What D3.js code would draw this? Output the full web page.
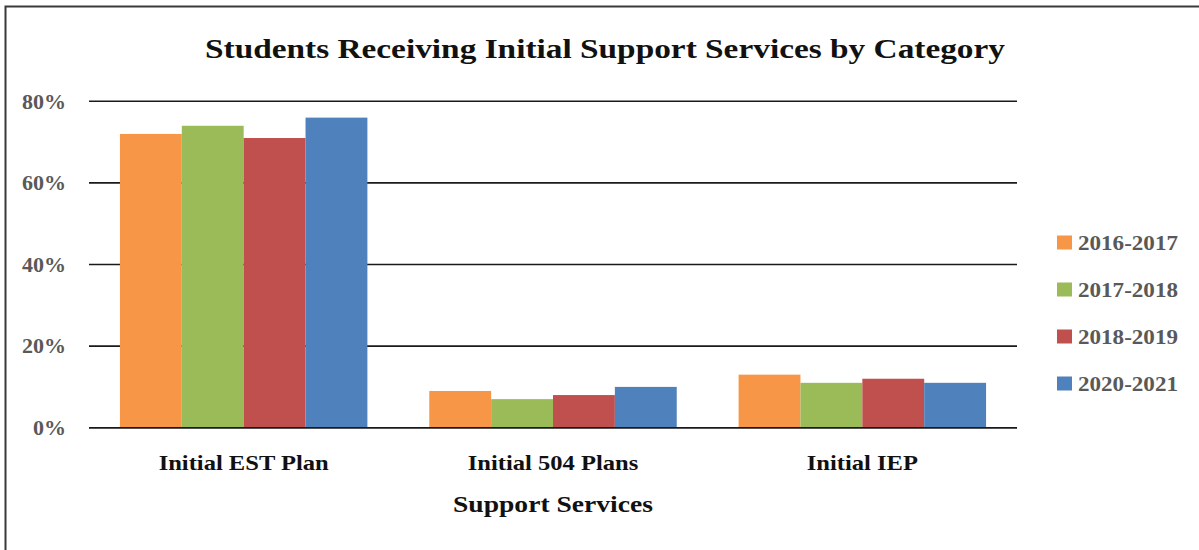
<!DOCTYPE html>
<html>
<head>
<meta charset="utf-8">
<script src="https://cdn.jsdelivr.net/npm/d3@7"></script>
<style>
  html, body { margin: 0; padding: 0; background: #fff; }
  svg { display: block; }
  text { font-family: "Liberation Serif", "DejaVu Serif", serif; font-weight: bold; }
</style>
</head>
<body>
<svg id="chart" width="1199" height="550"></svg>
<script>
const categories = ["Initial EST Plan", "Initial 504 Plans", "Initial IEP"];
const seriesNames = ["2016-2017", "2017-2018", "2018-2019", "2020-2021"];
const values2016 = [72, 9, 13];
const values2017 = [74, 7, 11];
const values2018 = [71, 8, 12];
const values2020 = [76, 10, 11];
const seriesValues = [values2016, values2017, values2018, values2020];
const yTicks = [0, 20, 40, 60, 80];
const colors = ["#F79646", "#9BBB59", "#C0504D", "#4F81BD"];
const titleText = "Students Receiving Initial Support Services by Category";
const xAxisTitle = "Support Services";

const svg = d3.select("#chart");
const W = 1199, H = 550;
const plot = { left: 89, right: 1017, top: 101.3, bottom: 427.7 };

// widen glyphs of a text group so the reference text reaches a target width
function widen(sel, refNode, target) {
  const k = target / refNode.getComputedTextLength();
  sel.each(function () {
    const w = this.getComputedTextLength();
    d3.select(this).attr("textLength", w * k).attr("lengthAdjust", "spacingAndGlyphs");
  });
}

svg.append("rect").attr("width", W).attr("height", H).attr("fill", "#fff");
svg.append("rect")
  .attr("x", 5.5).attr("y", 6.5)
  .attr("width", W + 10).attr("height", H + 10)
  .attr("fill", "none").attr("stroke", "#3a3a3a").attr("stroke-width", 2);

const x0 = d3.scaleBand().domain(categories)
  .range([plot.left, plot.right]).paddingInner(0.2).paddingOuter(0.1);
const x1 = d3.scaleBand().domain(seriesNames).range([0, x0.bandwidth()]).padding(0);
const y = d3.scaleLinear().domain([0, 80]).range([plot.bottom, plot.top]);

svg.append("g").selectAll("line").data(yTicks).join("line")
  .attr("x1", plot.left).attr("x2", plot.right)
  .attr("y1", d => y(d)).attr("y2", d => y(d))
  .attr("stroke", "#1a1a1a").attr("stroke-width", 1.6);

const tickText = svg.append("g").selectAll("text").data(yTicks).join("text")
  .attr("x", 66).attr("y", d => y(d))
  .attr("dy", "0.34em")
  .attr("text-anchor", "end")
  .attr("fill", "#595959").attr("font-size", 21.5)
  .text(d => d + "%");
widen(tickText, tickText.nodes()[4], 44);

const groups = svg.append("g").selectAll("g").data(categories).join("g")
  .attr("transform", d => `translate(${x0(d)},0)`);
groups.selectAll("rect")
  .data((c, ci) => seriesNames.map((s, si) => ({ s, si, v: seriesValues[si][ci] })))
  .join("rect")
  .attr("x", d => x1(d.s))
  .attr("width", x1.bandwidth())
  .attr("y", d => y(d.v))
  .attr("height", d => y(0) - y(d.v))
  .attr("fill", d => colors[d.si]);

svg.append("line").attr("x1", plot.left).attr("x2", plot.right)
  .attr("y1", y(0)).attr("y2", y(0)).attr("stroke", "#1a1a1a").attr("stroke-width", 1.6);

const catText = svg.append("g").selectAll("text").data(categories).join("text")
  .attr("x", d => x0(d) + x0.bandwidth() / 2).attr("y", 470)
  .attr("text-anchor", "middle").attr("fill", "#111").attr("font-size", 22)
  .text(d => d);
widen(catText, catText.nodes()[0], 170);

const axTitle = svg.append("text").attr("x", (plot.left + plot.right) / 2).attr("y", 512)
  .attr("text-anchor", "middle").attr("fill", "#111").attr("font-size", 22.5)
  .text(xAxisTitle);
widen(axTitle, axTitle.node(), 200);

const title = svg.append("text").attr("x", 605).attr("y", 58)
  .attr("text-anchor", "middle").attr("fill", "#111").attr("font-size", 27)
  .text(titleText);
widen(title, title.node(), 800);

const legendRows = [242.5, 289.5, 336.5, 383.5];
const lg = svg.append("g").selectAll("g").data(seriesNames).join("g")
  .attr("transform", (d, i) => `translate(1057,${legendRows[i]})`);
lg.append("rect").attr("x", 0).attr("y", -7).attr("width", 15).attr("height", 14)
  .attr("fill", (d, i) => colors[i]);
const lgText = lg.append("text").attr("x", 21).attr("y", 0).attr("dy", "0.34em")
  .attr("fill", "#595959").attr("font-size", 21.5).text(d => d);
widen(lgText, lgText.nodes()[0], 100);
</script>
</body>
</html>
